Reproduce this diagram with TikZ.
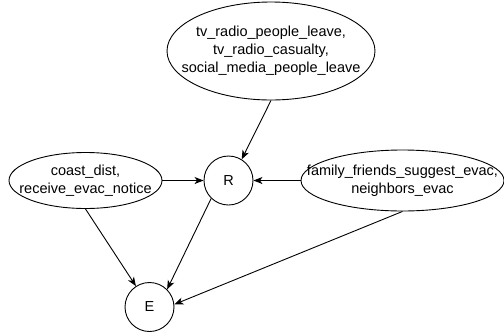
\documentclass[tikz,border=0pt]{standalone}
\usepackage{fontspec}
\setmainfont{Liberation Sans}
\usetikzlibrary{shapes.geometric,arrows.meta}
\begin{document}
\begin{tikzpicture}[x=1pt,y=-1pt,
  every node/.style={font=\fontsize{14.5}{17.8}\selectfont},
  oval/.style={draw,ellipse,line width=0.9pt,inner xsep=-40pt,inner ysep=-5pt,align=center},
  var/.style={draw,circle,line width=0.9pt,minimum size=49pt,inner sep=0pt},
  edge/.style={line width=0.9pt,-{Stealth[length=9pt,width=7pt,inset=2.5pt]}}]
\useasboundingbox (0,0) rectangle (504,333);
\node[oval,minimum width=208pt,minimum height=98pt] (top) at (271,51)
  {tv\_radio\_people\_leave,\\tv\_radio\_casualty,\\social\_media\_people\_leave};
\node[var] (R) at (228.5,180.5) {R};
\node[oval,minimum width=153pt,minimum height=56pt] (left) at (85.5,180.5)
  {coast\_dist,\\receive\_evac\_notice};
\node[oval,minimum width=203pt,minimum height=61pt] (right) at (402.5,180.5)
  {family\_friends\_suggest\_evac,\\neighbors\_evac};
\node[var] (E) at (149.5,307) {E};
\draw[edge] (top.south) -- (R.58);
\draw[edge] (left.east) -- (R.west);
\draw[edge] (right.west) -- (R.east);
\draw[edge] (left.south) -- (E.123);
\draw[edge] (R.226) -- (E.45);
\draw[edge] (right.south) -- (E.6);
\end{tikzpicture}
\end{document}
